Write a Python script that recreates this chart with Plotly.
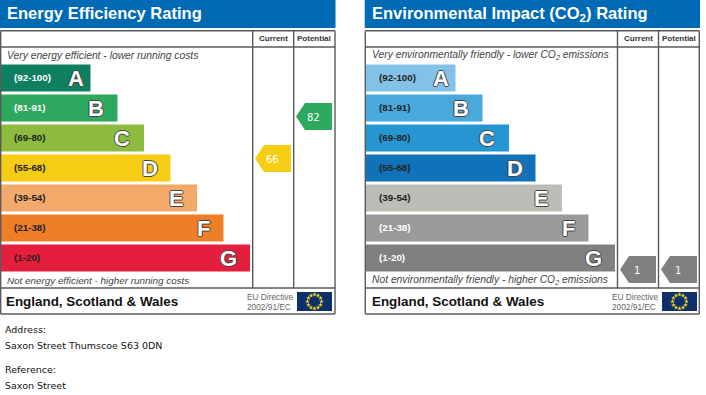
import numpy as np
import plotly.graph_objects as go

W, H = 706, 395

# ---- data ----
bands = ["A", "B", "C", "D", "E", "F", "G"]
ranges = ["(92-100)", "(81-91)", "(69-80)", "(55-68)", "(39-54)", "(21-38)", "(1-20)"]
bar_lengths = [89.5, 116.5, 143, 169.5, 196, 222.5, 249]
energy_colors = ["#0E8060", "#2CA85F", "#8DBB3F", "#F6CD15", "#F3A96A", "#EE7F27", "#E41E3C"]
enviro_colors = ["#84C1E8", "#4AA9DC", "#2596D1", "#1172B9", "#BDBDB8", "#9A9A9A", "#808080"]
energy_label_colors = ["#fff", "#fff", "#222", "#222", "#222", "#222", "#222"]
enviro_label_colors = ["#222", "#222", "#222", "#222", "#222", "#fff", "#fff"]
letter_offsets = [15, 22, 22, 21, 21, 20, 22]

energy_current, energy_potential = 66, 82
enviro_current, enviro_potential = 1, 1
# vertical location of each pointer, in band rows
energy_current_row, energy_potential_row = 2.683, 1.283
enviro_current_row, enviro_potential_row = 6.383, 6.383

titles = ["Energy Efficiency Rating", "Environmental Impact (CO<sub>2</sub>) Rating"]
top_notes = ["Very energy efficient - lower running costs",
             "Very environmentally friendly - lower CO<sub>2</sub> emissions"]
bottom_notes = ["Not energy efficient - higher running costs",
                "Not environmentally friendly - higher CO<sub>2</sub> emissions"]
footer_text = "England, Scotland & Wales"
directive_lines = ["EU Directive", "2002/91/EC"]
address_lines = ["Address:", "Saxon Street Thumscoe S63 0DN", "Reference:", "Saxon Street"]

# ---- layout geometry ----
SANS = "Liberation Sans"
BLUE = "#006AB5"
LINE = "#5A5A5A"
origins = [1, 366]            # x pixel of the bar origin in each panel


def px(x):
    return x / W


def py(y):
    return 1 - y / H


def row_of(y):
    return (y - 78) / 30


fig = go.Figure()
shapes, notes = [], []


def line(x0, y0, x1, y1, color=LINE, width=1.4):
    shapes.append(dict(type="line", xref="paper", yref="paper", x0=px(x0), x1=px(x1),
                       y0=py(y0), y1=py(y1), line=dict(color=color, width=width)))


def rect(x0, y0, x1, y1, color):
    shapes.append(dict(type="rect", xref="paper", yref="paper", x0=px(x0), x1=px(x1),
                       y0=py(y0), y1=py(y1), fillcolor=color, line=dict(width=0), layer="below"))


def text(x, y, s, size, color="#222", anchor="left", family=SANS):
    notes.append(dict(xref="paper", yref="paper", x=px(x), y=py(y), text=s, showarrow=False,
                      xanchor=anchor, yanchor="middle", font=dict(size=size, color=color, family=family),
                      borderpad=0, borderwidth=0))


def pointer(xaxis, yaxis, x_left, row, value, color):
    w, shoulder, half = 36, 9, 13.5 / 30
    fig.add_trace(go.Scatter(
        x=[x_left, x_left + shoulder, x_left + w, x_left + w, x_left + shoulder, x_left],
        y=[row, row - half, row - half, row + half, row + half, row],
        fill="toself", fillcolor=color, mode="lines", line=dict(width=0),
        hoverinfo="skip", showlegend=False, xaxis=xaxis, yaxis=yaxis))
    fig.add_trace(go.Scatter(
        x=[x_left + 17.3], y=[row + 0.08], mode="text", text=[str(value)],
        textfont=dict(size=10, color="#fff", family="DejaVu Sans"),
        hoverinfo="skip", showlegend=False, xaxis=xaxis, yaxis=yaxis))


panels = [
    dict(ax=("x", "y"), colors=energy_colors, labels=energy_label_colors, frame=(0.7, 335), hdr=(0, 335.5),
         cols=(252.7, 293.7), cur=(energy_current, energy_current_row, 255, "#F6CD15"),
         pot=(energy_potential, energy_potential_row, 296, "#2CA85F"), flag=297, ttl=7, note=7, foot=6, dirx=247,
         top_size=10.3, bot_size=9.85),
    dict(ax=("x2", "y"), colors=enviro_colors, labels=enviro_label_colors, frame=(365.3, 699.3), hdr=(364.7, 700),
         cols=(617.5, 658.5), cur=(enviro_current, enviro_current_row, 620, "#808080"),
         pot=(enviro_potential, enviro_potential_row, 661, "#808080"), flag=662, ttl=372, note=372, foot=372, dirx=611.5,
         top_size=10.3, bot_size=10.3),
]

for i, p in enumerate(panels):
    o = origins[i]
    fig.add_trace(go.Bar(y=list(range(len(bands))), x=bar_lengths, orientation="h", width=0.9,
                         marker=dict(color=p["colors"], line=dict(width=0)),
                         hoverinfo="skip", showlegend=False, xaxis=p["ax"][0], yaxis=p["ax"][1]))
    for k, (r, ln, off) in enumerate(zip(ranges, bar_lengths, letter_offsets)):
        notes.append(dict(xref=p["ax"][0], yref="y", x=10.5, y=k - 0.03, text=f"<b>{r}</b>", showarrow=False,
                          xanchor="left", yanchor="middle",
                          font=dict(size=9.8, color=p["labels"][k], family=SANS)))
        notes.append(dict(xref=p["ax"][0], yref="y", x=ln - off, y=k, text=f"<b>{bands[k]}</b>", showarrow=False,
                          xanchor="center", yanchor="middle",
                          font=dict(size=22, color="#fff", family=SANS,
                                    shadow="1px 0 0 #444,-1px 0 0 #444,0 1px 0 #444,0 -1px 0 #444")))

    for val, row, xl, col in (p["cur"], p["pot"]):
        pointer(p["ax"][0], p["ax"][1], xl - o, row, val, col)

    x0, x1 = p["frame"]
    rect(p["hdr"][0], 0, p["hdr"][1], 28, BLUE)
    text(p["ttl"], 14, f"<b>{titles[i]}</b>", 16.55, "#fff")
    line(x0, 30.7, x1, 30.7)
    line(x0, 314, x1, 314)
    line(x0, 30.7, x0, 314)
    line(x1, 30.7, x1, 314)
    line(x0, 47, x1, 47)
    line(x0, 288, x1, 288)
    line(p["cols"][0], 30.7, p["cols"][0], 288)
    line(p["cols"][1], 30.7, p["cols"][1], 288)
    text((p["cols"][0] + p["cols"][1]) / 2, 39, "<b>Current</b>", 8, "#333", "center")
    text((p["cols"][1] + x1) / 2, 39, "<b>Potential</b>", 8, "#333", "center")
    text(p["note"], 56, f"<i>{top_notes[i]}</i>", p["top_size"], "#444")
    text(p["note"], 280, f"<i>{bottom_notes[i]}</i>", p["bot_size"], "#444")
    text(p["foot"], 301, f"<b>{footer_text}</b>", 13.4, "#111")
    text(p["dirx"], 297, directive_lines[0], 8.3, "#666")
    text(p["dirx"], 306.5, directive_lines[1], 8.3, "#666")

    # EU flag
    fx = p["flag"]
    rect(fx, 292, fx + 35, 311, "#0D306A")
    ang = np.arange(12) * np.pi / 6
    fig.add_trace(go.Scatter(
        x=fx + 17.5 + 7 * np.cos(ang) - o, y=row_of(301.5 + 7 * np.sin(ang)),
        mode="markers", marker=dict(symbol="star", size=3.5, color="#F6D21E", line=dict(width=0)),
        hoverinfo="skip", showlegend=False, xaxis=p["ax"][0], yaxis=p["ax"][1]))

for y, s in zip([329, 345, 369, 385], address_lines):
    text(5, y, s, 9.5, "#111", family="DejaVu Sans")

fig.update_layout(
    width=W, height=H, margin=dict(l=0, r=0, t=0, b=0), paper_bgcolor="#fff", plot_bgcolor="rgba(0,0,0,0)",
    barmode="overlay", shapes=shapes, annotations=notes,
    xaxis=dict(domain=[px(1), px(336)], range=[0, 335], visible=False, fixedrange=True),
    xaxis2=dict(domain=[px(366), px(701)], range=[0, 335], visible=False, fixedrange=True),
    yaxis=dict(domain=[0, 1], range=[row_of(H), row_of(0)], visible=False, fixedrange=True),
)
fig.write_html("out.html", config=dict(displayModeBar=False),
               post_script="document.body.style.margin='0';")
